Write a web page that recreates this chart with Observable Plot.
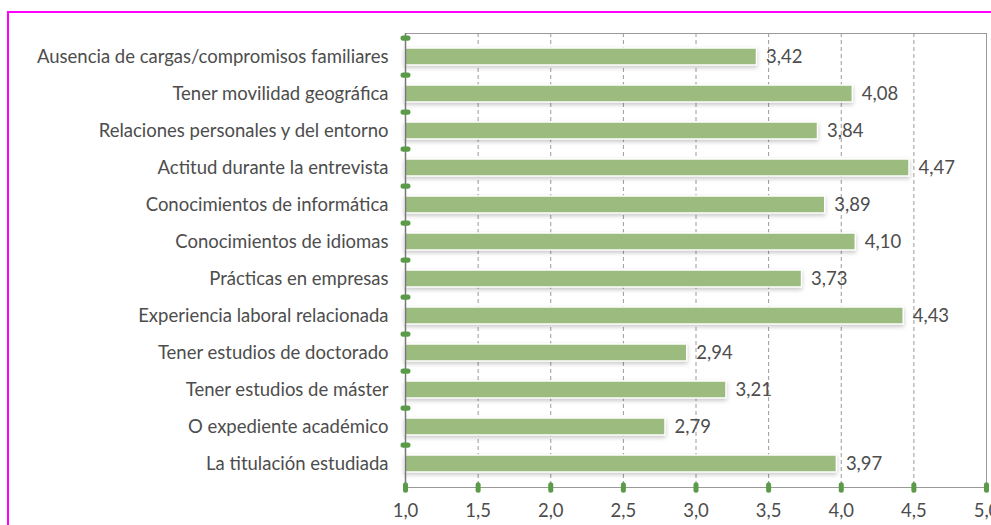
<!DOCTYPE html>
<html><head><meta charset="utf-8">
<script src="https://cdn.jsdelivr.net/npm/d3@7"></script>
<script src="https://cdn.jsdelivr.net/npm/@observablehq/plot@0.6"></script>
<style>
body{margin:0;overflow:hidden;background:#fff;width:991px;height:525px;}
#chart{position:absolute;left:0;top:0;}
#frame{position:absolute;left:7px;top:11px;width:1200px;height:800px;border:2px solid #ff00ff;pointer-events:none;z-index:2;}
.bars rect{filter:drop-shadow(0px 2px 2px rgba(0,0,0,0.22));}
</style></head><body>
<div id="chart"></div><div id="frame"></div>
<script>
const categories = [
  "Ausencia de cargas/compromisos familiares",
  "Tener movilidad geográfica",
  "Relaciones personales y del entorno",
  "Actitud durante la entrevista",
  "Conocimientos de informática",
  "Conocimientos de idiomas",
  "Prácticas en empresas",
  "Experiencia laboral relacionada",
  "Tener estudios de doctorado",
  "Tener estudios de máster",
  "O expediente académico",
  "La titulación estudiada"
];
const values = [3.42, 4.08, 3.84, 4.47, 3.89, 4.10, 3.73, 4.43, 2.94, 3.21, 2.79, 3.97];
const xTicks = [1.0, 1.5, 2.0, 2.5, 3.0, 3.5, 4.0, 4.5, 5.0];

const data = categories.map((c, i) => ({category: c, value: values[i]}));
const comma = (v, n) => v.toFixed(n).replace(".", ",");

const W = 991, H = 525, mT = 33, mB = 38, mL = 405, mR = 5;
const padInner = 0.53, padOuter = 0.265;
const step = (H - mT - mB) / (categories.length - padInner + 2 * padOuter);
const half = step / 2;

const hCapsule = {draw(ctx) { const a = 2.4, r = 2.6;
  ctx.moveTo(-a, -r); ctx.lineTo(a, -r); ctx.arc(a, 0, r, -Math.PI/2, Math.PI/2);
  ctx.lineTo(-a, r); ctx.arc(-a, 0, r, Math.PI/2, 3*Math.PI/2); ctx.closePath(); }};
const vCapsule = {draw(ctx) { const a = 2.8, r = 2.5;
  ctx.moveTo(r, -a); ctx.lineTo(r, a); ctx.arc(0, a, r, 0, Math.PI);
  ctx.lineTo(-r, -a); ctx.arc(0, -a, r, Math.PI, 2*Math.PI); ctx.closePath(); }};

const green = "#5b9a48";
const fs = 18.5;
const chart = Plot.plot({
  width: W, height: H,
  marginTop: mT, marginBottom: mB, marginLeft: mL, marginRight: mR,
  style: {fontFamily: "Lato, sans-serif", fontSize: fs + "px", color: "#4d4d4d", background: "transparent"},
  x: {domain: [1, 5]},
  y: {domain: categories, paddingInner: padInner, paddingOuter: padOuter},
  marks: [
    Plot.gridX(xTicks.filter(t => t > 1 && t < 5), {stroke: "#9a9a9a", strokeOpacity: 1, strokeDasharray: "4,3"}),
    Plot.frame({stroke: "#9a9a9a"}),
    Plot.barX(data, {x1: 1, x2: "value", y: "category", fill: "#9bbb7f", stroke: "#fff", strokeWidth: 1.5, className: "bars"}),
    Plot.ruleX([1], {stroke: "#777", strokeWidth: 1.5}),
    Plot.text(data, {x: "value", y: "category", text: d => comma(d.value, 2), dx: 9, textAnchor: "start", fontSize: fs, fill: "#4d4d4d"}),
    Plot.dot(categories, {y: d => d, frameAnchor: "left", dy: -half, symbol: hCapsule, fill: green, stroke: null, r: 4}),
    Plot.dot(xTicks, {x: d => d, frameAnchor: "bottom", symbol: vCapsule, fill: green, stroke: null, r: 4}),
    Plot.axisY({tickSize: 0, tickPadding: 17, fontSize: fs, label: null}),
    Plot.axisX({ticks: xTicks, tickFormat: d => comma(d, 1), tickSize: 0, tickPadding: 16, fontSize: fs, label: null})
  ]
});
document.getElementById("chart").appendChild(chart);
</script>
</body></html>
